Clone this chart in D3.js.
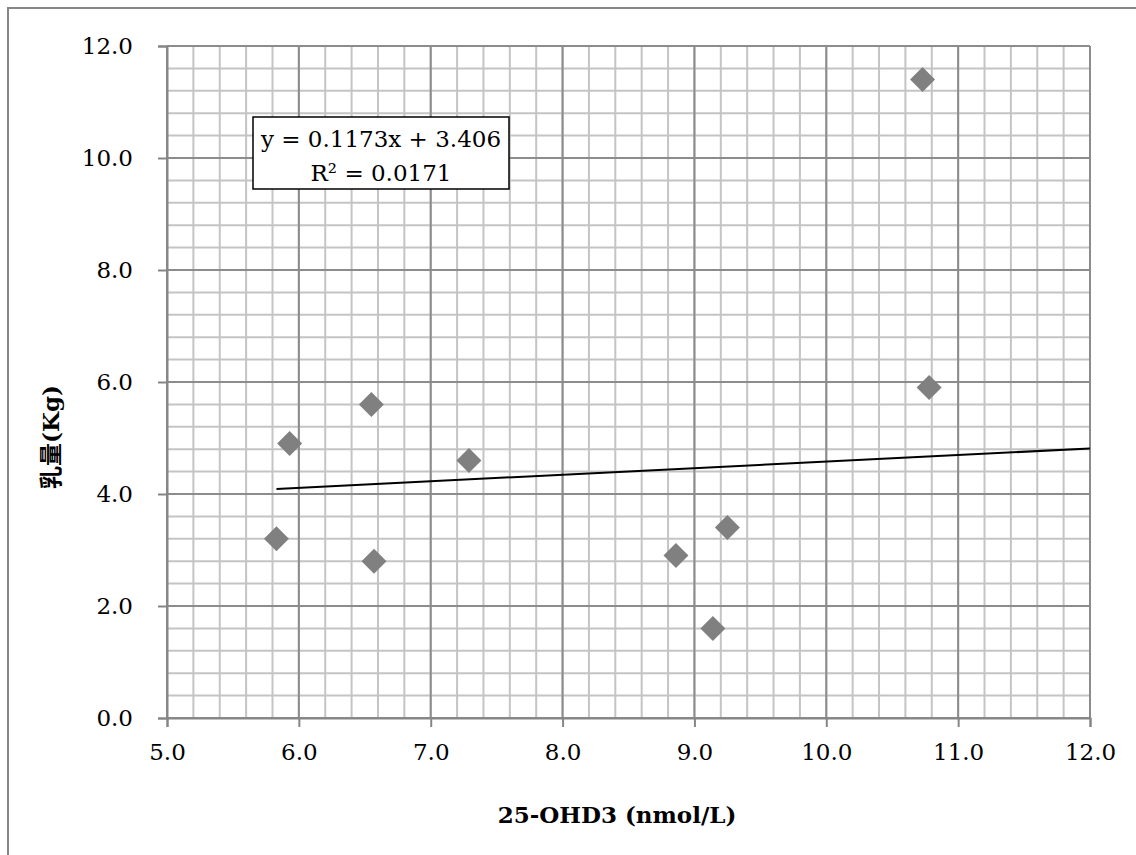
<!DOCTYPE html>
<html>
<head>
<meta charset="utf-8">
<script src="https://cdn.jsdelivr.net/npm/d3@7"></script>
<style>
  html, body { margin: 0; padding: 0; background: #fff; }
  svg { display: block; font-family: "DejaVu Serif", "Noto Sans CJK JP", serif; }
</style>
</head>
<body>
<svg id="chart" width="1136" height="855"></svg>
<script>
// 25-OHD3 vs milk yield
const vitD = [5.83, 5.93, 6.55, 6.57, 7.29, 8.86, 9.14, 9.25, 10.73, 10.78];
const milk = [3.2, 4.9, 5.6, 2.8, 4.6, 2.9, 1.6, 3.4, 11.4, 5.9];

const xTicks = [5, 6, 7, 8, 9, 10, 11, 12];
const yTicks = [0, 2, 4, 6, 8, 10, 12];

// linear trendline as reported in the chart
const trendSlope = 0.1173;
const trendIntercept = 3.406;
const trendLabel = ["y = 0.1173x + 3.406", "R² = 0.0171"];

const xTitle = "25-OHD3 (nmol/L)";
const yTitle = "乳量(Kg)";

const plotLeft = 167, plotTop = 46, plotRight = 1090, plotBottom = 718;
const gridMinor = "#c4c4c4";
const gridMajor = "#8c8c8c";
const axisColor = "#868686";

const svg = d3.select("#chart");

// chart area frame
svg.append("rect")
  .attr("x", 8).attr("y", 8)
  .attr("width", 1140).attr("height", 860)
  .attr("fill", "#fff")
  .attr("stroke", axisColor)
  .attr("stroke-width", 2);

const x = d3.scaleLinear().domain([5, 12]).range([plotLeft, plotRight]);
const y = d3.scaleLinear().domain([0, 12]).range([plotBottom, plotTop]);

const grid = svg.append("g").attr("stroke-width", 2);

// minor gridlines
grid.append("g")
  .attr("stroke", gridMinor)
  .selectAll("line")
  .data(d3.range(0, 12.001, 0.4))
  .join("line")
  .attr("x1", plotLeft).attr("x2", plotRight)
  .attr("y1", (d) => y(d)).attr("y2", (d) => y(d));

grid.append("g")
  .attr("stroke", gridMinor)
  .selectAll("line")
  .data(d3.range(5, 12.001, 0.2))
  .join("line")
  .attr("y1", plotTop).attr("y2", plotBottom)
  .attr("x1", (d) => x(d)).attr("x2", (d) => x(d));

// major gridlines
grid.append("g")
  .attr("stroke", gridMajor)
  .selectAll("line")
  .data(yTicks)
  .join("line")
  .attr("x1", plotLeft).attr("x2", plotRight)
  .attr("y1", (d) => y(d)).attr("y2", (d) => y(d));

grid.append("g")
  .attr("stroke", gridMajor)
  .selectAll("line")
  .data(xTicks)
  .join("line")
  .attr("y1", plotTop).attr("y2", plotBottom)
  .attr("x1", (d) => x(d)).attr("x2", (d) => x(d));

// axes
const fmt = d3.format(".1f");

const yAxis = svg.append("g")
  .attr("transform", `translate(${plotLeft},0)`)
  .call(d3.axisLeft(y).tickValues(yTicks).tickFormat(fmt).tickSize(9).tickPadding(25));

const xAxis = svg.append("g")
  .attr("transform", `translate(0,${plotBottom})`)
  .call(d3.axisBottom(x).tickValues(xTicks).tickFormat(fmt).tickSize(9).tickPadding(17));

[xAxis, yAxis].forEach((g) => {
  g.selectAll("path, line").attr("stroke", axisColor).attr("stroke-width", 2);
  g.selectAll("text")
    .attr("fill", "#000")
    .attr("font-size", "23px")
    .attr("font-family", "DejaVu Serif, serif");
});

// trendline (forward forecast to the axis end)
const trendX = [d3.min(vitD), 12];
svg.append("line")
  .attr("x1", x(trendX[0]))
  .attr("y1", y(trendSlope * trendX[0] + trendIntercept))
  .attr("x2", x(trendX[1]))
  .attr("y2", y(trendSlope * trendX[1] + trendIntercept))
  .attr("stroke", "#000")
  .attr("stroke-width", 2);

// points
svg.append("g")
  .attr("fill", "#808080")
  .selectAll("path")
  .data(vitD.map((d, i) => [d, milk[i]]))
  .join("path")
  .attr("d", d3.symbol(d3.symbolSquare, 312))
  .attr("transform", (d) => `translate(${x(d[0])},${y(d[1])}) rotate(45)`);

// equation box
const box = svg.append("g");
box.append("rect")
  .attr("x", 253).attr("y", 117)
  .attr("width", 256).attr("height", 72)
  .attr("fill", "#fff")
  .attr("stroke", "#000")
  .attr("stroke-width", 1.5);

box.selectAll("text")
  .data(trendLabel)
  .join("text")
  .attr("x", 381)
  .attr("y", (d, i) => 147 + i * 34)
  .attr("text-anchor", "middle")
  .attr("font-size", "23px")
  .text((d) => d);

// axis titles
svg.append("text")
  .attr("x", 617)
  .attr("y", 823)
  .attr("text-anchor", "middle")
  .attr("font-size", "23px")
  .attr("font-weight", "bold")
  .text(xTitle);

svg.append("text")
  .attr("transform", "translate(59,437) rotate(-90)")
  .attr("text-anchor", "middle")
  .attr("font-size", "23px")
  .attr("font-weight", "bold")
  .text(yTitle);
</script>
</body>
</html>
